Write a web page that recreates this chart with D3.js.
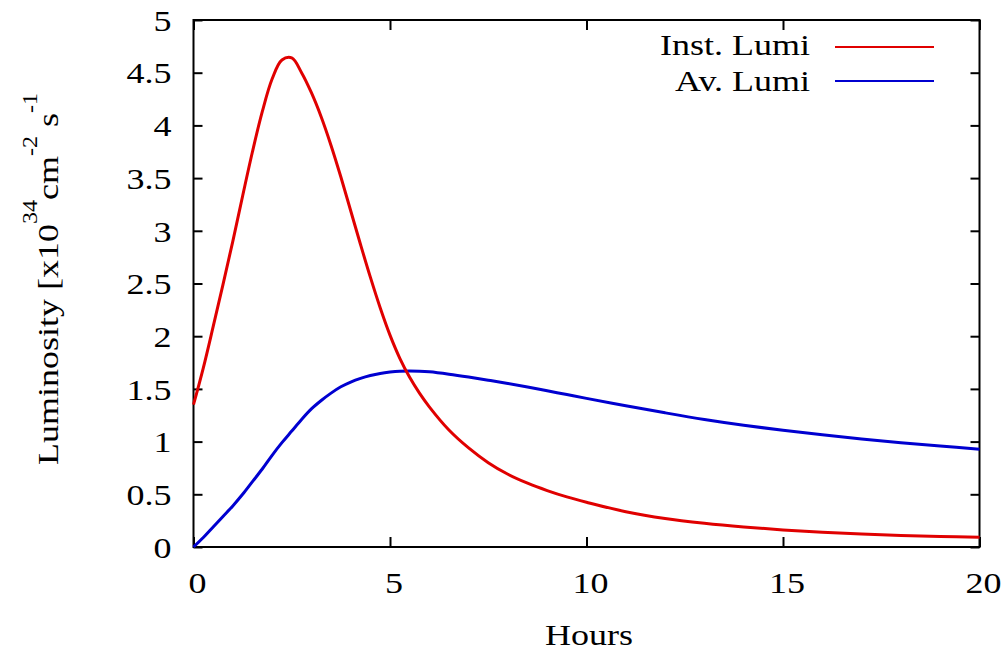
<!DOCTYPE html>
<html>
<head>
<meta charset="utf-8">
<script src="https://cdn.jsdelivr.net/npm/d3@7"></script>
<style>
  body { margin: 0; background: #fff; }
  text { font-family: "Liberation Serif", "Times New Roman", serif; fill: #000; }
</style>
</head>
<body>
<svg id="chart" width="1008" height="652"></svg>
<script>
// hours after start of the fill
const hours = [0, 0.25, 0.5, 0.75, 1, 1.25, 1.5, 1.75, 2, 2.25, 2.5, 2.75, 3, 3.25, 3.5, 3.75,
  4, 4.25, 4.5, 4.75, 5, 5.25, 5.5, 5.75, 6, 6.5, 7, 7.5, 8, 8.5, 9, 9.5, 10,
  11, 12, 13, 14, 15, 16, 17, 18, 19, 20];
// instantaneous luminosity, x10^34
const instLumi = [1.35, 1.70, 2.09, 2.49, 2.90, 3.33, 3.75, 4.13, 4.44, 4.62, 4.64, 4.50, 4.31, 4.08, 3.81, 3.51,
  3.19, 2.87, 2.56, 2.27, 2.01, 1.79, 1.61, 1.46, 1.33, 1.11, 0.94, 0.80, 0.69, 0.605, 0.535, 0.475, 0.425,
  0.335, 0.27, 0.225, 0.19, 0.162, 0.14, 0.123, 0.11, 0.10, 0.092];
// average luminosity, x10^34
const avLumi = [0, 0.09, 0.19, 0.29, 0.39, 0.50, 0.62, 0.74, 0.87, 0.99, 1.10, 1.21, 1.31, 1.39, 1.46, 1.52,
  1.565, 1.60, 1.627, 1.647, 1.66, 1.668, 1.67, 1.668, 1.662, 1.64, 1.613, 1.583, 1.552, 1.518, 1.482, 1.446, 1.41,
  1.34, 1.273, 1.21, 1.155, 1.107, 1.064, 1.025, 0.99, 0.958, 0.928];

const seriesNames = ["Inst. Lumi", "Av. Lumi"];
const seriesColors = ["#e00000", "#0000d0"];
const xTicks = [0, 5, 10, 15, 20];
const xTickLabels = ["0", "5", "10", "15", "20"];
const yTicks = [0, 0.5, 1, 1.5, 2, 2.5, 3, 3.5, 4, 4.5, 5];
const yTickLabels = ["0", "0.5", "1", "1.5", "2", "2.5", "3", "3.5", "4", "4.5", "5"];

let plotLeft = 193.5, plotRight = 979.5, plotTop = 20, plotBottom = 547;
let stretch = 1.2; // the original font is drawn wide
let svg = d3.select("#chart");
svg.append("rect").attr("width", 1008).attr("height", 652).attr("fill", "#fff");

let xScale = d3.scaleLinear().domain([0, 20]).range([plotLeft, plotRight]);
let yScale = d3.scaleLinear().domain([0, 5]).range([plotBottom, plotTop]);

// bottom axis with labels, ticks pointing inward
let xAxis = d3.axisBottom(xScale).tickValues(xTicks)
  .tickFormat((d, i) => xTickLabels[i]).tickSizeInner(-10).tickSizeOuter(0);
let gx = svg.append("g").attr("transform", "translate(0," + plotBottom + ")").call(xAxis);
gx.selectAll("text")
  .attr("y", 46).attr("dy", 0).attr("x", 3)
  .attr("transform", "scale(" + stretch + ",1)")
  .style("font-size", "30px");

let yAxis = d3.axisLeft(yScale).tickValues(yTicks)
  .tickFormat((d, i) => yTickLabels[i]).tickSizeInner(-9).tickSizeOuter(0);
let gy = svg.append("g").attr("transform", "translate(" + plotLeft + ",0)").call(yAxis);
gy.selectAll("text")
  .attr("x", -22 / stretch).attr("dy", "0.34em")
  .attr("transform", "scale(" + stretch + ",1)")
  .style("font-size", "30px");

// mirrored ticks on top and right
let gt = svg.append("g").attr("transform", "translate(0," + plotTop + ")")
  .call(d3.axisTop(xScale).tickValues(xTicks).tickFormat("").tickSizeInner(-10).tickSizeOuter(0));
let gr = svg.append("g").attr("transform", "translate(" + plotRight + ",0)")
  .call(d3.axisRight(yScale).tickValues(yTicks).tickFormat("").tickSizeInner(-9).tickSizeOuter(0));

[gx, gy, gt, gr].forEach(g => {
  g.select(".domain").remove();
  g.selectAll(".tick line").attr("stroke", "#000").attr("stroke-width", 2);
});

svg.append("rect")
  .attr("x", plotLeft).attr("y", plotTop)
  .attr("width", plotRight - plotLeft).attr("height", plotBottom - plotTop)
  .attr("fill", "none").attr("stroke", "#000").attr("stroke-width", 2);

// curves
let line = d3.line()
  .x((d, i) => xScale(hours[i]))
  .y(d => yScale(d))
  .curve(d3.curveCatmullRom);

svg.append("path").datum(avLumi)
  .attr("d", line).attr("fill", "none")
  .attr("stroke", seriesColors[1]).attr("stroke-width", 3);
svg.append("path").datum(instLumi)
  .attr("d", line).attr("fill", "none")
  .attr("stroke", seriesColors[0]).attr("stroke-width", 3);

// legend
let legendRows = [55, 91];
let legendLines = [47, 81];
seriesNames.forEach((name, i) => {
  svg.append("text")
    .attr("transform", "translate(810," + legendRows[i] + ") scale(" + stretch + ",1)")
    .attr("text-anchor", "end")
    .style("font-size", "30px")
    .text(name);
  svg.append("line")
    .attr("x1", 835).attr("x2", 934)
    .attr("y1", legendLines[i]).attr("y2", legendLines[i])
    .attr("stroke", seriesColors[i]).attr("stroke-width", 2);
});

// axis titles
svg.append("text")
  .attr("transform", "translate(589,645) scale(" + stretch + ",1)")
  .attr("text-anchor", "middle")
  .style("font-size", "30px")
  .text("Hours");

let ylab = svg.append("text")
  .attr("transform", "translate(58,279) rotate(-90) scale(" + stretch + ",1)")
  .attr("text-anchor", "middle")
  .style("font-size", "30px");
ylab.append("tspan").text("Luminosity [x10");
ylab.append("tspan").attr("dy", -21).style("font-size", "20px").text("34");
ylab.append("tspan").attr("dy", 21).text("cm");
ylab.append("tspan").attr("dy", -21).style("font-size", "20px").text("-2");
ylab.append("tspan").attr("dy", 21).text(" s");
ylab.append("tspan").attr("dy", -21).style("font-size", "20px").text("-1");
</script>
</body>
</html>
